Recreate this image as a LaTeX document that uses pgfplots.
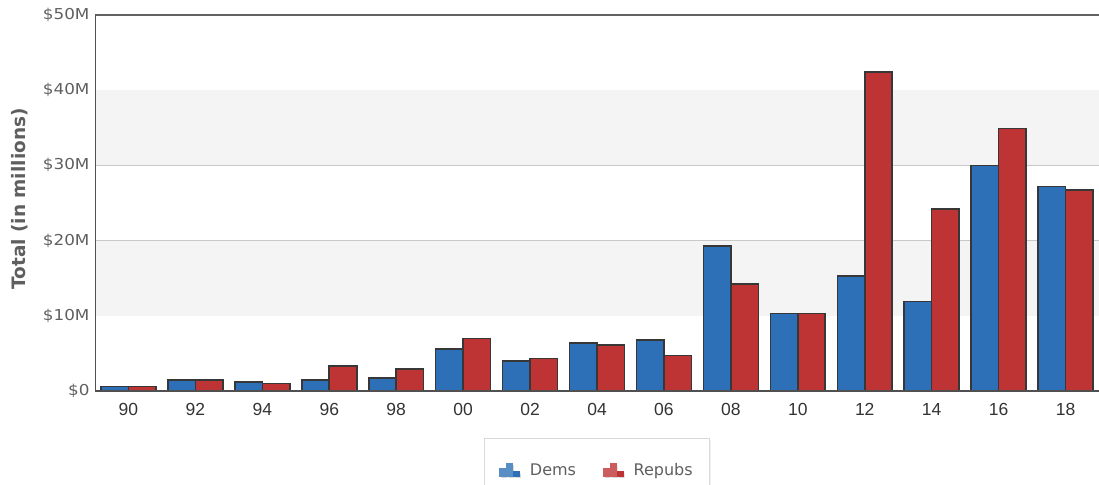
\documentclass[border=0pt]{standalone}
\usepackage{pgfplots}
\usepackage{pgfplotstable}
\pgfplotsset{compat=1.18}
\usepackage{fontspec}
\setmainfont{DejaVu Sans}
\newfontfamily\arialfont{Liberation Sans}
\usetikzlibrary{shadows}

\definecolor{dem}{RGB}{46,112,184}
\definecolor{rep}{RGB}{190,52,52}
\definecolor{band}{RGB}{244,244,244}
\definecolor{gridc}{RGB}{200,200,200}
\definecolor{axc}{RGB}{80,80,80}
\definecolor{txt}{RGB}{95,95,95}
\definecolor{barline}{RGB}{55,55,55}

% Totals in millions of dollars, one row per election cycle
\pgfplotstableread{
x  dem   rep
0  0.6   0.6
1  1.5   1.5
2  1.2   1.0
3  1.5   3.3
4  1.7   2.9
5  5.6   7.0
6  4.0   4.3
7  6.4   6.1
8  6.8   4.7
9  19.3  14.2
10 10.3  10.3
11 15.3  42.4
12 11.9  24.2
13 30.0  34.9
14 27.2  26.7
}\totals

\newcommand{\yl}[1]{\scalebox{1.12}[1]{#1}}
% small three-bar icon used as legend image
\newcommand{\baricon}[1]{%
  \fill[#1!80] (0pt,-6pt) rectangle (5pt,1pt);
  \fill[#1!80] (7pt,-6pt) rectangle (12pt,6pt);
  \fill[#1]    (14pt,-6pt) rectangle (19pt,-2pt);}

\begin{document}
\begin{tikzpicture}
\begin{axis}[
  name=ax,
  set layers,
  scale only axis,
  width=1004pt, height=376pt,
  xmin=-0.5, xmax=14.5,
  ymin=0, ymax=50,
  ybar=0pt, bar width=0.41,
  axis line style={draw=none},
  major tick length=0pt,
  xtick={0,...,14},
  xticklabels={90,92,94,96,98,00,02,04,06,08,10,12,14,16,18},
  ytick={0,10,20,30,40,50},
  yticklabels={\yl{\$0},\yl{\$10M},\yl{\$20M},\yl{\$30M},\yl{\$40M},\yl{\$50M}},
  xticklabel style={font=\arialfont\fontsize{17.5}{20}\selectfont, text=black!80, yshift=-9pt},
  yticklabel style={font=\fontsize{15}{17}\selectfont, text=txt, xshift=-2pt},
  ymajorgrids,
  grid style={gridc, line width=1pt},
  ylabel={Total (in millions)},
  ylabel style={at={(axis description cs:-0.0747,0.5106)}, anchor=center,
    font=\bfseries\fontsize{18.5}{20}\selectfont, text=txt},
  legend style={at={(0.5,-0.125)}, anchor=north, draw=black!15, fill=white,
    font=\fontsize{16}{18}\selectfont, text=txt,
    inner xsep=15pt, inner ysep=23pt,
    drop shadow={shadow xshift=1.5pt, shadow yshift=-1.5pt, opacity=0.12},
    /tikz/every odd column/.append style={column sep=8pt},
    /tikz/every even column/.append style={column sep=25pt}},
  legend columns=2,
  legend cell align=left,
]
% alternating background bands
\fill[band, on layer=axis background] (axis cs:-0.5,10) rectangle (axis cs:14.5,20);
\fill[band, on layer=axis background] (axis cs:-0.5,30) rectangle (axis cs:14.5,40);

\addplot[fill=dem, draw=barline, line width=1.6pt,
  legend image code/.code={\baricon{dem}}]
  table[x=x, y=dem] {\totals};
\addlegendentry{Dems}
\addplot[fill=rep, draw=barline, line width=1.6pt,
  legend image code/.code={\baricon{rep}}]
  table[x=x, y=rep] {\totals};
\addlegendentry{Repubs}

% frame: heavy left, bottom and top rules
\draw[axc!90, line width=2.6pt] (rel axis cs:0,1) -- (rel axis cs:1,1);
\draw[axc, line width=2.6pt] (rel axis cs:0,1) -- (rel axis cs:0,0) -- (rel axis cs:1,0);
\end{axis}
\pgfresetboundingbox
\path[use as bounding box] ([shift={(-95pt,-93pt)}]ax.south west) rectangle ([shift={(0pt,15pt)}]ax.north east);
\end{tikzpicture}
\end{document}
